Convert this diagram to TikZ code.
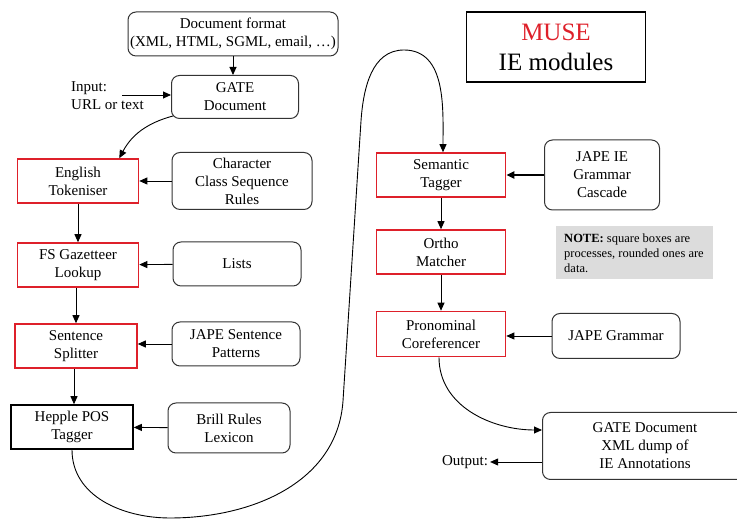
\documentclass[tikz,border=0pt]{standalone}
\usepackage{fontspec}
\setmainfont{Liberation Serif}
\usepackage{xcolor}
\usepackage{tikz}
\usetikzlibrary{shapes,arrows.meta,positioning,fit}

\definecolor{procred}{RGB}{222,32,42}
\definecolor{notegray}{RGB}{220,220,220}

\begin{document}
\begin{tikzpicture}[
    x=1pt, y=1pt,
    every node/.style={font=\rmfamily\fontsize{15}{18}\selectfont, inner sep=2pt},
    data/.style={rectangle, rounded corners=8pt, draw=black!80, line width=1pt, align=center},
    proc/.style={rectangle, draw=procred, line width=1.6pt, align=center, minimum width=121pt, minimum height=44pt},
    arrow/.style={-{Triangle[length=8pt,width=7pt]}, line width=0.9pt}
]
\useasboundingbox (0,0) rectangle (737,521);

% left column
\node[data, minimum width=210pt, minimum height=44pt, inner sep=1pt] (docfmt) at (233,487) {Document format\\(XML, HTML, SGML, email, \dots)};
\node[data, minimum width=127pt, minimum height=43pt] (gatedoc) at (235,424) {GATE\\Document};
\node[align=left, anchor=west, inner sep=0pt] (input) at (71,425) {Input:\\URL or text};
\coordinate (inputend) at (122,426);

\node[proc] (tokeniser) at (78,340) {English\\Tokeniser};
\node[data, minimum width=140pt, minimum height=57pt] (charclass) at (242,340) {Character\\Class Sequence\\Rules};
\node[proc] (gazetteer) at (78,256) {FS Gazetteer\\Lookup};
\node[data, minimum width=128pt, minimum height=44pt] (lists) at (237,257) {Lists};
\node[proc, minimum width=122pt] (splitter) at (76,175) {Sentence\\Splitter};
\node[data, minimum width=128pt, minimum height=44pt] (sentpat) at (236,177) {JAPE Sentence\\Patterns};
\node[rectangle, draw, line width=1.6pt, align=center, minimum width=122pt, minimum height=44pt] (hepple) at (72,94) {Hepple POS\\Tagger};
\node[data, minimum width=122pt, minimum height=50pt] (brill) at (229,93) {Brill Rules\\Lexicon};

% right column
\node[rectangle, draw, line width=1.4pt, align=center, minimum width=179pt, minimum height=70pt, font=\fontsize{25}{30}\selectfont] (muse) at (556,474) {\textcolor{procred}{MUSE}\\IE modules};
\node[proc, minimum width=129pt] (semantic) at (441,346) {Semantic\\Tagger};
\node[data, minimum width=115pt, minimum height=70pt] (japeie) at (602,346) {JAPE IE\\Grammar\\Cascade};
\node[proc, minimum width=129pt] (ortho) at (441,269) {Ortho\\Matcher};
\node[rectangle, fill=notegray, align=left, minimum width=157pt, minimum height=53pt, inner xsep=7pt, font=\fontsize{12.5}{15}\selectfont] (note) at (634,268) {\textbf{NOTE:} square boxes are\\processes, rounded ones are\\data.};
\node[proc, minimum width=129pt, minimum height=45pt] (pronominal) at (441,187) {Pronominal\\Coreferencer};
\node[data, minimum width=128pt, minimum height=45pt] (japegram) at (616,185) {JAPE Grammar};
\node[data, minimum width=205pt, minimum height=67pt] (gateout) at (645,75) {GATE Document\\XML dump of\\IE Annotations};
\node (output) at (465,59) {Output:};

% connectors
\draw[arrow] (docfmt.south) -- (docfmt.south |- gatedoc.north);
\draw[arrow] (inputend) -- (inputend -| gatedoc.west);
\draw[arrow] (gatedoc.south west) ++(2,3) to[out=195,in=62] ([xshift=-20pt]tokeniser.north east);
\draw[arrow] (charclass) -- (tokeniser);
\draw[arrow] (tokeniser) -- (gazetteer);
\draw[arrow] (lists) -- (gazetteer);
\draw[arrow] ([xshift=-2pt]gazetteer.south) -- ([xshift=-2pt]gazetteer.south |- splitter.north);
\draw[arrow] (sentpat.west) -- (sentpat.west -| splitter.east);
\draw[arrow] ([xshift=-2pt]splitter.south) -- ([xshift=-2pt]splitter.south |- hepple.north);
\draw[arrow] (brill) -- (hepple);
\draw[arrow] (hepple.south) to[out=-90,in=180] (170,3) to[out=0,in=-94] (343,120)
    -- (361,400) to[out=86,in=180] (404,471) to[out=0,in=90] ([xshift=2pt]semantic.north);
\draw[arrow, line width=2pt] (japeie) -- (semantic);
\draw[arrow] (semantic) -- (ortho);
\draw[arrow] (ortho) -- (pronominal);
\draw[arrow] (japegram.west) -- (japegram.west -| pronominal.east);
\draw[arrow] ([xshift=-2pt]pronominal.south) to[out=-90,in=180] ([yshift=16pt]gateout.west);
\draw[arrow] (gateout.west |- output) -- (output.east);
\end{tikzpicture}
\end{document}
